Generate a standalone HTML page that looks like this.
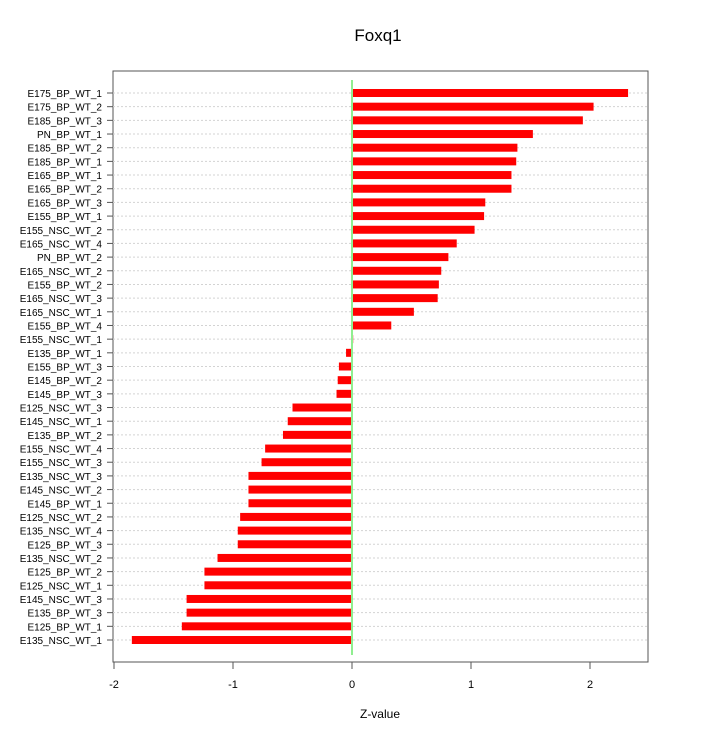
<!DOCTYPE html>
<html><head><meta charset="utf-8"><style>
html,body{margin:0;padding:0;background:#fff;}
svg text{font-family:"Liberation Sans",sans-serif;}
</style></head><body>
<svg id="chart" width="720" height="735" viewBox="0 0 720 735" xmlns="http://www.w3.org/2000/svg">
<text x="378" y="41" text-anchor="middle" font-size="17">Foxq1</text>
<rect x="113" y="71" width="535" height="591" fill="none" stroke="#555" stroke-width="1"/>
<g id="grid"></g><g id="bars"></g><g id="ylabels"></g><g id="xticks"></g>
<line x1="352" x2="352" y1="80" y2="655" stroke="#90ee90" stroke-width="2"/>
<text x="380" y="718" text-anchor="middle" font-size="12">Z-value</text>
</svg>
<script>
const categories=["E175_BP_WT_1","E175_BP_WT_2","E185_BP_WT_3","PN_BP_WT_1","E185_BP_WT_2","E185_BP_WT_1","E165_BP_WT_1","E165_BP_WT_2","E165_BP_WT_3","E155_BP_WT_1","E155_NSC_WT_2","E165_NSC_WT_4","PN_BP_WT_2","E165_NSC_WT_2","E155_BP_WT_2","E165_NSC_WT_3","E165_NSC_WT_1","E155_BP_WT_4","E155_NSC_WT_1","E135_BP_WT_1","E155_BP_WT_3","E145_BP_WT_2","E145_BP_WT_3","E125_NSC_WT_3","E145_NSC_WT_1","E135_BP_WT_2","E155_NSC_WT_4","E155_NSC_WT_3","E135_NSC_WT_3","E145_NSC_WT_2","E145_BP_WT_1","E125_NSC_WT_2","E135_NSC_WT_4","E125_BP_WT_3","E135_NSC_WT_2","E125_BP_WT_2","E125_NSC_WT_1","E145_NSC_WT_3","E135_BP_WT_3","E125_BP_WT_1","E135_NSC_WT_1"];
const values=[2.32,2.03,1.94,1.52,1.39,1.38,1.34,1.34,1.12,1.11,1.03,0.88,0.81,0.75,0.73,0.72,0.52,0.33,0.01,-0.05,-0.11,-0.12,-0.13,-0.50,-0.54,-0.58,-0.73,-0.76,-0.87,-0.87,-0.87,-0.94,-0.96,-0.96,-1.13,-1.24,-1.24,-1.39,-1.39,-1.43,-1.85];
const xTicks=[-2,-1,0,1,2];
const NS="http://www.w3.org/2000/svg";
function x(v){return 352+v*119;}
function y(i){return 93+i*(640-93)/(categories.length-1);}
function mk(t,a,p){const e=document.createElementNS(NS,t);for(const k in a)e.setAttribute(k,a[k]);document.getElementById(p).appendChild(e);return e;}
categories.forEach((c,i)=>{
  const g=mk('line',{x1:113,x2:648,y1:y(i),y2:y(i),stroke:'#d3d3d3','stroke-dasharray':'2,2','stroke-width':1},'grid');
  
  
  const v=values[i];
  const b=mk('rect',{x:Math.min(x(0),x(v)),y:y(i)-4,width:Math.abs(x(v)-x(0)),height:8,fill:'#ff0000'},'bars');
  
  
  const tk=mk('line',{x1:107,x2:113,y1:y(i),y2:y(i),stroke:'#555'},'ylabels');
  
  
  const t=mk('text',{x:102,y:y(i)+4,'text-anchor':'end','font-size':10},'ylabels');
  t.textContent=c;
  
  
});
xTicks.forEach(v=>{
  const l=mk('line',{x1:x(v),x2:x(v),y1:662,y2:669,stroke:'#555'},'xticks');
  
  
  const t=mk('text',{x:x(v),y:688,'text-anchor':'middle','font-size':11},'xticks');
  t.textContent=v;
  
  
});
</script>
</body></html>
